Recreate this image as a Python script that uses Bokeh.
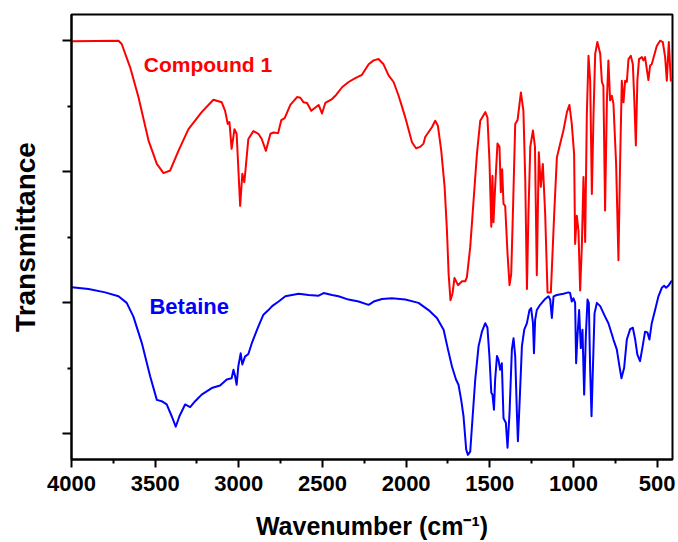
from bokeh.plotting import figure
from bokeh.models import Range1d, FixedTicker, Label
from bokeh.embed import file_html
from bokeh.resources import INLINE

# ---- data (wavenumber cm-1, transmittance a.u.) ----
red_wn = [3998, 3719, 3700, 3649, 3600, 3540, 3490, 3450, 3410, 3361,
          3301, 3222, 3152, 3102, 3082, 3066, 3056, 3043, 3026, 3013,
          2992, 2979, 2967, 2943, 2913, 2883, 2863, 2838, 2811, 2792,
          2765, 2746, 2726, 2692, 2652, 2632, 2613, 2592, 2567, 2523,
          2503, 2483, 2443, 2423, 2383, 2344, 2304, 2264, 2224, 2194,
          2165, 2135, 2105, 2075, 2045, 2005, 1965, 1941, 1916, 1896,
          1886, 1846, 1826, 1810, 1790, 1770, 1756, 1746, 1735, 1723,
          1711, 1690, 1666, 1647, 1637, 1617, 1597, 1577, 1557, 1527,
          1514, 1502, 1491, 1484, 1478, 1468, 1454, 1442, 1434, 1426,
          1418, 1408, 1394, 1382, 1372, 1362, 1348, 1334, 1314, 1299,
          1288, 1278, 1269, 1258, 1242, 1230, 1219, 1207, 1195, 1183,
          1169, 1155, 1135, 1115, 1099, 1079, 1060, 1039, 1024, 1010,
          996, 990, 980, 970, 960, 950, 940, 930, 920, 910,
          900, 890, 880, 870, 857, 840, 830, 821, 811, 800,
          791, 781, 771, 761, 745, 731, 721, 711, 701, 691,
          681, 671, 657, 645, 637, 627, 618, 608, 591, 582,
          572, 552, 542, 532, 502, 482, 466, 452, 442, 430,
          418, 409]
red_t = [79.9, 80.0, 79.5, 75.9, 71.4, 64.8, 61.2, 59.8, 60.2, 63.2,
         66.5, 69.1, 71.0, 70.6, 69.3, 67.3, 67.6, 63.5, 66.5, 65.8,
         54.8, 59.7, 58.4, 65.0, 66.2, 65.8, 65.0, 63.2, 65.8, 66.0,
         65.9, 67.9, 68.2, 70.2, 71.4, 71.3, 70.6, 70.5, 69.3, 70.2,
         68.9, 70.5, 71.1, 71.6, 72.9, 73.7, 74.3, 74.8, 76.4, 77.0,
         77.2, 76.4, 74.7, 73.7, 71.6, 68.3, 64.5, 63.6, 63.8, 64.3,
         65.3, 66.8, 67.8, 67.0, 63.2, 57.7, 51.0, 44.4, 40.4, 41.4,
         43.8, 42.7, 43.3, 43.3, 43.9, 48.5, 55.6, 62.7, 67.8, 69.1,
         68.3, 61.7, 51.6, 59.4, 52.3, 57.7, 64.3, 63.8, 56.9, 60.4,
         55.1, 54.8, 47.5, 42.7, 44.4, 53.6, 67.3, 67.9, 72.1, 69.3,
         58.7, 42.1, 53.6, 63.8, 66.3, 63.8, 44.2, 63.0, 57.7, 61.2,
         53.6, 41.6, 41.6, 53.6, 62.2, 64.3, 66.3, 69.1, 70.2, 67.3,
         62.7, 49.0, 53.3, 51.0, 41.9, 48.5, 59.2, 49.3, 68.8, 77.7,
         73.9, 56.6, 68.8, 78.0, 79.8, 78.0, 73.7, 73.1, 54.1, 70.9,
         77.0, 70.9, 71.6, 70.4, 61.2, 46.5, 61.7, 73.9, 70.6, 73.9,
         73.7, 77.2, 77.7, 76.4, 71.4, 64.0, 73.9, 77.2, 77.5, 77.0,
         77.5, 74.0, 76.2, 76.4, 79.2, 80.0, 79.8, 77.5, 73.9, 79.8,
         73.9, 74.2]

blue_wn = [3998, 3898, 3799, 3719, 3670, 3630, 3580, 3530, 3490, 3461,
           3431, 3401, 3377, 3355, 3321, 3291, 3261, 3222, 3162, 3112,
           3072, 3043, 3032, 3022, 3013, 3003, 2989, 2979, 2963, 2943,
           2919, 2883, 2853, 2823, 2801, 2762, 2722, 2682, 2642, 2583,
           2523, 2493, 2443, 2404, 2344, 2284, 2224, 2194, 2144, 2085,
           2005, 1926, 1866, 1816, 1776, 1750, 1726, 1702, 1687, 1671,
           1657, 1641, 1631, 1617, 1601, 1587, 1567, 1547, 1527, 1514,
           1502, 1491, 1484, 1475, 1468, 1457, 1448, 1438, 1428, 1418,
           1404, 1394, 1382, 1368, 1358, 1348, 1338, 1332, 1322, 1308,
           1294, 1278, 1263, 1253, 1242, 1236, 1229, 1219, 1199, 1169,
           1149, 1139, 1129, 1119, 1099, 1060, 1030, 1020, 1010, 1000,
           990, 984, 976, 966, 956, 946, 936, 926, 916, 908,
           900, 892, 884, 874, 860, 840, 811, 791, 761, 741,
           725, 713, 697, 681, 661, 645, 631, 618, 602, 585,
           572, 558, 546, 532, 512, 492, 472, 458, 446, 433,
           412]
blue_t = [42.4, 42.1, 41.6, 41.0, 40.0, 37.9, 33.9, 28.8, 25.2, 25.0,
          24.5, 22.7, 21.1, 22.7, 24.5, 24.1, 25.0, 26.0, 27.0, 27.4,
          28.3, 28.5, 29.8, 28.8, 27.5, 30.3, 32.3, 30.6, 31.8, 32.2,
          34.1, 36.4, 38.2, 38.9, 39.5, 40.2, 41.0, 41.2, 41.4, 41.2,
          41.1, 41.5, 41.2, 41.0, 40.5, 40.2, 39.7, 40.2, 40.6, 40.7,
          40.5, 40.0, 38.9, 37.7, 35.9, 32.9, 30.3, 28.3, 27.5, 25.2,
          22.7, 17.6, 16.8, 17.3, 23.2, 28.3, 33.4, 35.6, 36.9, 36.2,
          31.8, 26.3, 26.0, 23.7, 28.3, 31.9, 31.3, 29.8, 30.8, 22.4,
          21.7, 17.9, 23.2, 32.9, 34.6, 31.8, 23.2, 18.9, 24.7, 33.4,
          35.9, 36.9, 38.9, 39.2, 36.9, 32.3, 37.4, 38.9, 39.7, 40.6,
          41.0, 40.5, 37.7, 41.0, 41.2, 41.4, 41.6, 41.5, 40.2, 40.7,
          40.0, 30.8, 34.9, 38.9, 33.1, 35.9, 26.0, 34.9, 40.5, 40.0,
          29.8, 22.7, 29.8, 38.4, 40.0, 39.5, 37.9, 36.9, 34.4, 32.9,
          30.3, 28.5, 30.1, 34.4, 36.0, 36.2, 34.4, 32.1, 31.1, 33.6,
          35.6, 35.5, 34.4, 36.9, 38.9, 41.0, 42.3, 42.6, 42.3, 42.6,
          43.4]

x_major = [4000, 3500, 3000, 2500, 2000, 1500, 1000, 500]
x_minor = [3750, 3250, 2750, 2250, 1750, 1250, 750]
y_major = [20, 40, 60, 80]
y_minor = [30, 50, 70]

FONT = "Liberation Sans"

p = figure(width=678, height=542,
           x_range=Range1d(4000, 408), y_range=Range1d(16.1, 84.0),
           output_backend="svg", toolbar_location=None,
           min_border_left=71, min_border_right=6,
           min_border_top=14, min_border_bottom=82,
           background_fill_color="white", border_fill_color="white")

p.grid.visible = False
p.outline_line_color = "black"
p.outline_line_width = 2

p.line(red_wn, red_t, line_color="#ff0000", line_width=2, line_join="round")
p.line(blue_wn, blue_t, line_color="#0000ff", line_width=2, line_join="round")

# x axis
xa = p.xaxis[0]
xa.ticker = FixedTicker(ticks=x_major, minor_ticks=x_minor)
xa.axis_label = "Wavenumber (cm\u207b\u00b9)"
xa.axis_label_text_font = FONT
xa.axis_label_text_font_style = "bold"
xa.axis_label_text_font_size = "25px"
xa.axis_label_text_color = "black"
xa.axis_label_standoff = 18
xa.major_label_text_font = FONT
xa.major_label_text_font_style = "bold"
xa.major_label_text_font_size = "22px"
xa.major_label_text_color = "black"
xa.major_label_standoff = 8
xa.major_tick_out = 8
xa.major_tick_in = 0
xa.minor_tick_out = 4
xa.minor_tick_in = 0
xa.axis_line_width = 2
xa.major_tick_line_width = 2
xa.minor_tick_line_width = 2

# y axis (ticks only, no tick labels in the reference)
ya = p.yaxis[0]
ya.ticker = FixedTicker(ticks=y_major, minor_ticks=y_minor)
ya.major_label_overrides = {v: "" for v in y_major}
ya.axis_label = "Transmittance"
ya.axis_label_text_font = FONT
ya.axis_label_text_font_style = "bold"
ya.axis_label_text_font_size = "28px"
ya.axis_label_text_color = "black"
ya.axis_label_standoff = 22
ya.major_label_standoff = 0
ya.major_tick_out = 9
ya.major_tick_in = 0
ya.minor_tick_out = 4
ya.minor_tick_in = 0
ya.axis_line_width = 2
ya.major_tick_line_width = 2
ya.minor_tick_line_width = 2

p.add_layout(Label(x=3568, y=76.3, text="Compound 1", text_color="#ff0000",
                   text_font=FONT, text_font_style="bold",
                   text_font_size="21px", text_baseline="alphabetic"))
p.add_layout(Label(x=3534, y=39.5, text="Betaine", text_color="#0000ff",
                   text_font=FONT, text_font_style="bold",
                   text_font_size="22px", text_baseline="alphabetic"))

open("out.html", "w").write(file_html(p, INLINE))
